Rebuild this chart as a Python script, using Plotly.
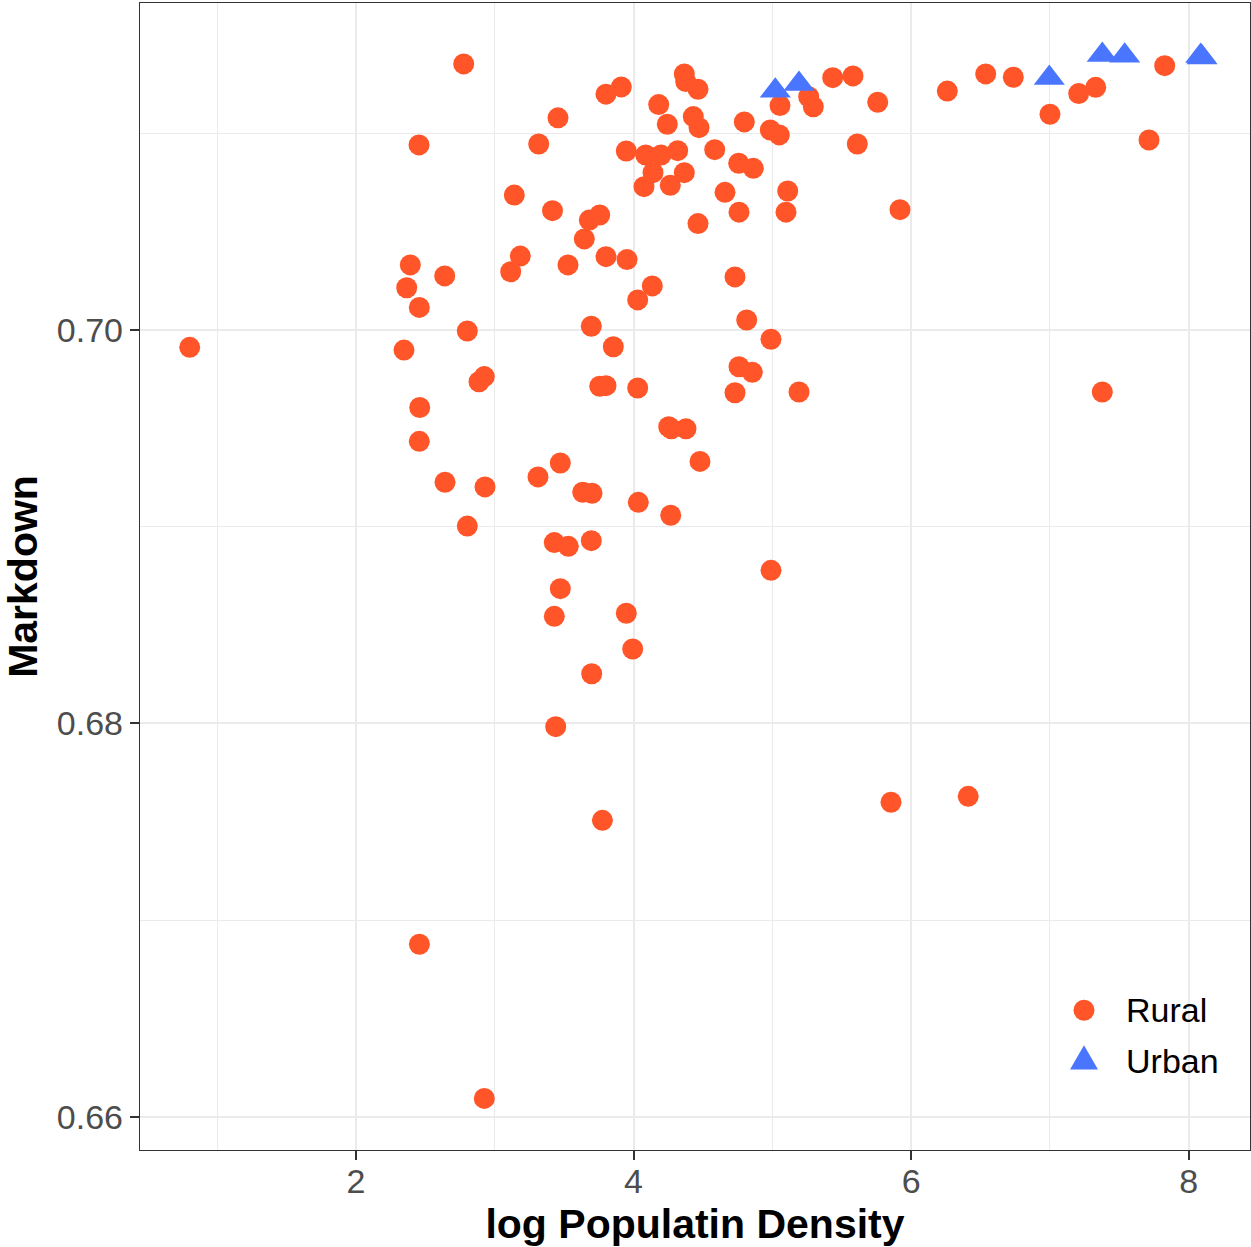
import plotly.graph_objects as go

# Rural counties: log population density vs markdown
rural_x = [0.8026, 2.7767, 2.4546, 3.3170, 3.4561, 3.1412, 3.4164, 2.3919, 2.3660, 2.6398,
           2.4568, 3.1844, 3.1153, 2.8026, 2.3465, 2.9251, 2.8869, 2.4597, 2.4568, 2.6419,
           2.9301, 2.8026, 3.3120, 3.4726, 3.6340, 3.7010, 4.0346, 4.2680, 3.4294, 3.5303,
           3.6960, 3.4726, 3.4294, 3.9481, 3.9942, 3.6988, 3.4395, 3.7759, 2.4575, 2.9251,
           5.8552, 6.4114, 4.9906, 4.2536, 4.2723, 4.3782, 4.4791, 4.7601, 4.8559, 4.7313,
           5.1924, 4.9906, 4.8156, 4.7313, 4.1354, 4.0303, 3.6960, 3.8545, 3.7565, 3.8018,
           4.0303, 3.8018, 3.9532, 3.6455, 3.6816, 3.7565, 3.5281, 4.4647, 4.7601, 5.0987,
           5.1110, 4.6592, 4.0757, 4.2651, 4.1405, 4.3660, 4.7579, 4.8631, 4.5850, 3.9481,
           4.0879, 4.1981, 4.3184, 4.2435, 4.1816, 4.4308, 4.4719, 4.7983, 4.9856, 5.0504,
           5.0555, 5.2622, 5.2954, 4.3660, 4.3761, 4.4647, 3.8018, 3.9121, 5.4352, 5.5814,
           5.7594, 5.6124, 5.9200, 6.2608, 6.5375, 6.7363, 7.0007, 7.2075, 7.3300, 7.8271,
           7.7140, 7.3775]
rural_y = [0.69912, 0.71353, 0.70941, 0.70946, 0.71079, 0.70686, 0.70607, 0.70331, 0.70215, 0.70275,
           0.70115, 0.70376, 0.70296, 0.69995, 0.69898, 0.69763, 0.69737, 0.69606, 0.69434, 0.69226,
           0.69202, 0.69003, 0.69253, 0.69324, 0.69175, 0.69170, 0.69124, 0.69058, 0.68919, 0.68900,
           0.68929, 0.68685, 0.68544, 0.68560, 0.68378, 0.68252, 0.67983, 0.67507, 0.66877, 0.66093,
           0.67599, 0.67629, 0.68778, 0.69508, 0.69498, 0.69498, 0.69332, 0.69813, 0.69785, 0.69681,
           0.69685, 0.69953, 0.70051, 0.70270, 0.70224, 0.70153, 0.70019, 0.69915, 0.69714, 0.69717,
           0.69705, 0.70373, 0.70358, 0.70463, 0.70559, 0.70585, 0.70331, 0.70541, 0.70599, 0.70599,
           0.70707, 0.70700, 0.70729, 0.70736, 0.70800, 0.70800, 0.70848, 0.70822, 0.70917, 0.70910,
           0.70890, 0.70890, 0.70912, 0.71046, 0.71146, 0.71085, 0.71029, 0.71058, 0.71017, 0.70992,
           0.71141, 0.71186, 0.71135, 0.71302, 0.71263, 0.71224, 0.71199, 0.71236, 0.71283, 0.71292,
           0.71158, 0.70946, 0.70612, 0.71215, 0.71302, 0.71285, 0.71097, 0.71202, 0.71234, 0.71344,
           0.70966, 0.69685]

# Urban counties
urban_x = [5.0216, 5.1924, 6.9957, 7.3775, 7.5389, 8.0865, 8.0960]
urban_y = [0.71216, 0.71251, 0.71281, 0.71398, 0.71395, 0.71393, 0.71386]

x_ticks = [2, 4, 6, 8]
y_ticks = [0.66, 0.68, 0.70]
y_tick_labels = ["0.66", "0.68", "0.70"]
legend_labels = ["Rural", "Urban"]

RURAL_COLOR = "#FF5528"
URBAN_COLOR = "#4A76FF"
FONT = "Liberation Sans, Arial, Helvetica, sans-serif"

fig = go.Figure()
fig.add_trace(go.Scatter(
    x=rural_x, y=rural_y, mode="markers", name=legend_labels[0],
    marker=dict(symbol="circle", size=21, color=RURAL_COLOR, line=dict(width=0)),
    showlegend=False,
))
fig.add_trace(go.Scatter(
    x=urban_x, y=urban_y, mode="markers", name=legend_labels[1],
    marker=dict(symbol="triangle-up", size=27, color=URBAN_COLOR, line=dict(width=0)),
    showlegend=False,
))

axis_common = dict(
    showline=True, linecolor="#333333", linewidth=1.3, mirror=True,
    ticks="outside", ticklen=9, tickwidth=2, tickcolor="#333333",
    showgrid=True, gridcolor="#EBEBEB", gridwidth=2.4,
    zeroline=False,
    tickfont=dict(family=FONT, size=34, color="#4D4D4D"),
)

fig.update_xaxes(
    **axis_common,
    range=[0.4445, 8.4417],
    tickvals=x_ticks,
    ticklabelstandoff=-8,
    minor=dict(showgrid=True, gridcolor="#EBEBEB", gridwidth=1.2, dtick=1, tick0=0, ticks=""),
    title=dict(text="log Populatin Density", font=dict(family=FONT, size=41, color="#000000", weight="bold"),
               standoff=10),
)
fig.update_yaxes(
    **axis_common,
    range=[0.658307, 0.716627],
    tickvals=y_ticks, ticktext=y_tick_labels,
    minor=dict(showgrid=True, gridcolor="#EBEBEB", gridwidth=1.2, dtick=0.01, tick0=0.66, ticks=""),
    title=dict(text="Markdown", font=dict(family=FONT, size=41, color="#000000", weight="bold"),
               standoff=12),
)

# Legend (drawn inside the panel, ggplot-style, with full-size keys)
shapes = [
    dict(type="rect", xref="paper", yref="paper", x0=0.8153, x1=0.991, y0=0.04098, y1=0.15955,
         fillcolor="white", line=dict(width=0), layer="between"),
    dict(type="circle", xref="paper", yref="paper", xsizemode="pixel", ysizemode="pixel",
         xanchor=0.85045, yanchor=0.12180, x0=-10.5, x1=10.5, y0=-10.5, y1=10.5,
         fillcolor=RURAL_COLOR, line=dict(width=0), layer="above"),
    dict(type="path", xref="paper", yref="paper", xsizemode="pixel", ysizemode="pixel",
         xanchor=0.85045, yanchor=0.08072, path="M -14,-12.2 L 14,-12.2 L 0,12.2 Z",
         fillcolor=URBAN_COLOR, line=dict(width=0), layer="above"),
]
annotations = [
    dict(text=legend_labels[0], xref="paper", yref="paper", x=0.8862, y=0.1222,
         xanchor="left", yanchor="middle", showarrow=False,
         font=dict(family=FONT, size=34, color="#000000")),
    dict(text=legend_labels[1], xref="paper", yref="paper", x=0.8862, y=0.0779,
         xanchor="left", yanchor="middle", showarrow=False,
         font=dict(family=FONT, size=34, color="#000000")),
]

fig.update_layout(
    width=1251, height=1247,
    margin=dict(l=140, r=1, t=3, b=97, autoexpand=False),
    plot_bgcolor="white", paper_bgcolor="white",
    showlegend=False,
    shapes=shapes, annotations=annotations,
)

fig.write_html("out.html", config={"displayModeBar": False},
               post_script="document.body.style.margin='0';")
